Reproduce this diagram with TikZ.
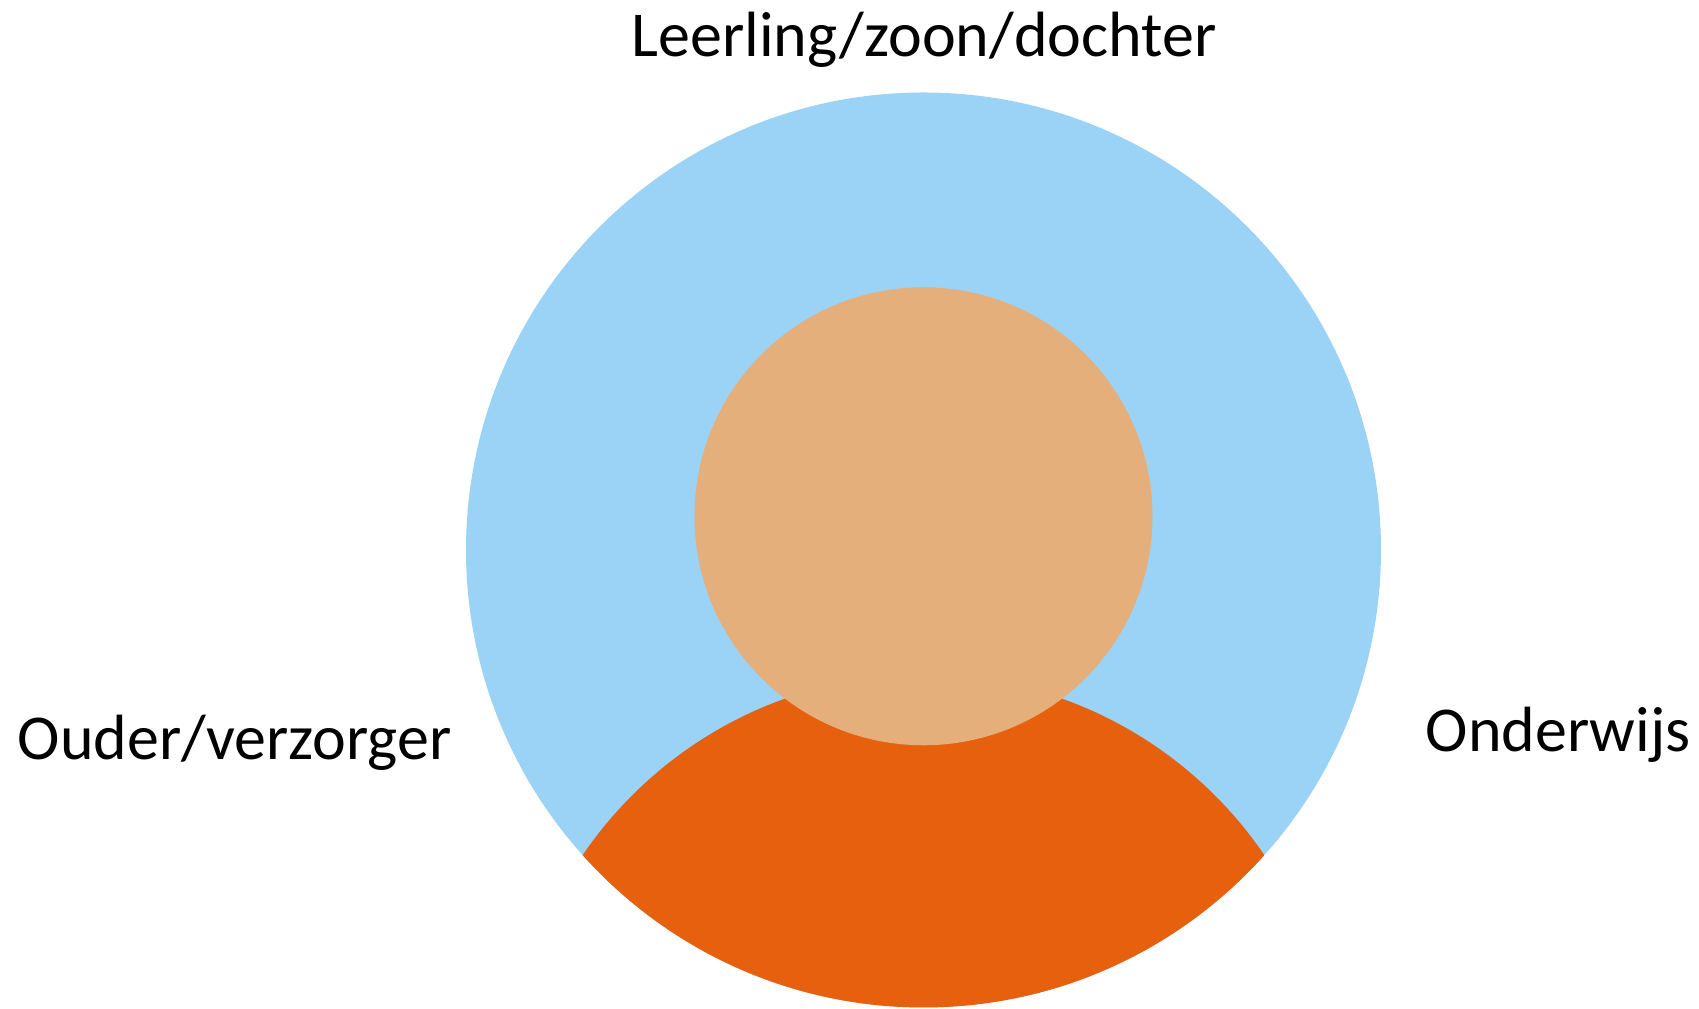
\documentclass[tikz,border=0pt]{standalone}
\usepackage{fontspec}
\setmainfont{Carlito}
\definecolor{sky}{RGB}{155, 211, 246}
\definecolor{rust}{RGB}{230, 96, 13}
\definecolor{sand}{RGB}{229, 175, 124}
\tikzset{rolelabel/.style={anchor=base west, inner sep=0pt, font=\fontsize{18.2}{22}\selectfont}}

\begin{document}
\begin{tikzpicture}[scale=0.1]

  \useasboundingbox (0, 0) rectangle (169.9, 100.9);

  \fill[color=sky] (92.35, 45.9) circle (45.75);

  \begin{scope}
    \clip (92.35, 45.9) circle (45.75);
    \fill[color=rust] (92.35, -7.8) circle (41.22);
  \end{scope}

  \fill[color=sand] (92.35, 49.27) circle (22.9);

  \node[rolelabel] (child) at (63.1, 95.2) {Leerling/zoon/dochter};
  \node[rolelabel] (parent) at (1.7, 24.95) {Ouder/verzorger};
  \node[rolelabel] (school) at (142.5, 25.7) {Onderwijs};

\end{tikzpicture}
\end{document}
